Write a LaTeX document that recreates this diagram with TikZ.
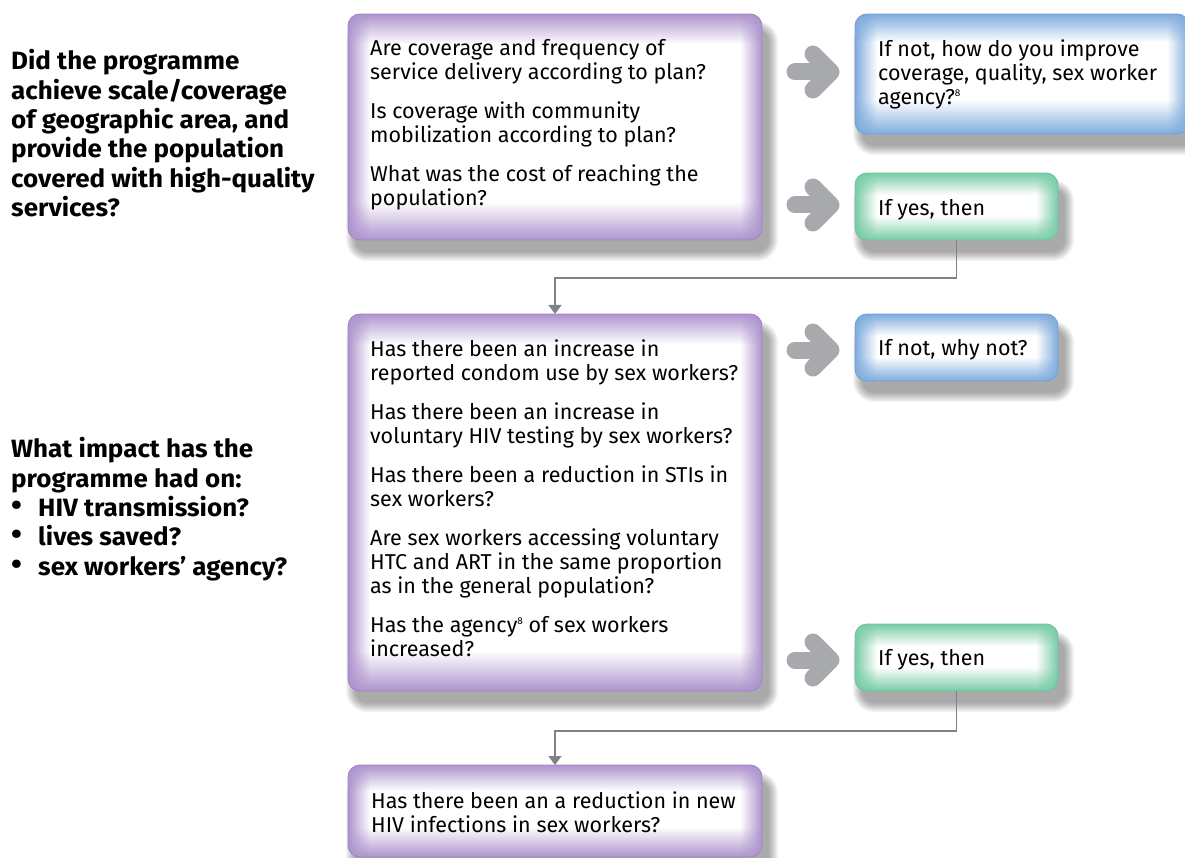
\documentclass[tikz,border=0pt]{standalone}
\usepackage{fontspec}
\setmainfont{Fira Sans}
\newfontfamily\bodyf[FakeStretch=1.0]{Fira Sans}
\newfontfamily\headf[FakeStretch=1.04]{Fira Sans}
\usetikzlibrary{calc,fadings,arrows.meta}
\definecolor{pTint}{HTML}{AE94CE}
\definecolor{pLine}{HTML}{9F86C1}
\definecolor{bTint}{HTML}{7FACDD}
\definecolor{bLine}{HTML}{74A0D2}
\definecolor{gTint}{HTML}{78CCA6}
\definecolor{gLine}{HTML}{70C29C}
\definecolor{arrGray}{HTML}{A7A9AC}
\definecolor{conGray}{HTML}{808285}
\tikzfading[name=fadeD, top color=transparent!0, middle color=transparent!35, bottom color=transparent!100]
\tikzfading[name=fadeU, top color=transparent!100, middle color=transparent!35, bottom color=transparent!0]
\tikzfading[name=fadeR, left color=transparent!0, middle color=transparent!55, right color=transparent!100]
\tikzfading[name=fadeL, left color=transparent!100, middle color=transparent!55, right color=transparent!0]
\pgfdeclarelayer{bg}
\pgfsetlayers{bg,main}
\newcommand\decor[5]{% name, tint, line, top band, bottom band
  \begin{pgfonlayer}{bg}
    \foreach \k in {0,...,9}
      \fill[black, opacity=0.038, rounded corners={(12+\k)*1pt}]
        ($(#1.north west)+(7-\k,16-\k)$) rectangle ($(#1.south east)+(7+\k,12+\k)$);
  \end{pgfonlayer}
  \begin{scope}
    \clip[rounded corners=12pt] (#1.north west) rectangle (#1.south east);
    \fill[white] (#1.north west) rectangle (#1.south east);
    \fill[#2, path fading=fadeR] (#1.north west) rectangle ($(#1.south west)+(22,0)$);
    \fill[#2, path fading=fadeL] ($(#1.north east)+(-22,0)$) rectangle (#1.south east);
    \fill[#2, path fading=fadeD] (#1.north west) rectangle ($(#1.north east)+(0,#4)$);
    \fill[#2, path fading=fadeU] ($(#1.south west)+(0,-#5)$) rectangle (#1.south east);
  \end{scope}
  \draw[#3, line width=0.9pt, rounded corners=12pt] (#1.north west) rectangle (#1.south east);
}
\tikzset{
  boxshape/.style={rectangle, inner sep=0pt, outer sep=0pt},
  body/.style={anchor=north west, inner sep=0pt, align=left, text=black,
    font={\bodyf\fontsize{21.5}{24}\selectfont}},
  head/.style={anchor=north west, inner sep=0pt, align=left, text=black,
    font={\headf\bfseries\fontsize{25}{29.3}\selectfont}},
  garrow/.style={draw=arrGray, line width=17pt, line cap=round, line join=round},
  conn/.style={draw=conGray, line width=1.3pt, -{Triangle[width=13pt,length=9pt]}}
}
\newcommand\st{\rule{0pt}{16pt}}
\newcommand\sth{\rule{0pt}{19pt}}
\newcommand\fn{\raisebox{8pt}{\fontsize{10}{10}\selectfont 8}}
\newcommand\bul{\makebox[27pt][l]{\raisebox{1pt}{\fontsize{30}{30}\selectfont\textbullet}}}
\begin{document}
\begin{tikzpicture}[x=1pt,y=-1pt]
\useasboundingbox (0,0) rectangle (1185,858);
% boxes
\node[boxshape, minimum width=414pt, minimum height=226pt] (b1) at (555,127) {};
\node[boxshape, minimum width=414pt, minimum height=377pt] (b2) at (555,502.5) {};
\node[boxshape, minimum width=414pt, minimum height=92pt] (b3) at (555,811) {};
\node[boxshape, minimum width=334pt, minimum height=120pt] (n1) at (1022,74) {};
\node[boxshape, minimum width=203pt, minimum height=67pt] (y1) at (956.5,206.5) {};
\node[boxshape, minimum width=203pt, minimum height=67pt] (n2) at (956.5,347.5) {};
\node[boxshape, minimum width=203pt, minimum height=67pt] (y2) at (956.5,657.5) {};
\decor{b1}{pTint}{pLine}{30}{38}
\decor{b2}{pTint}{pLine}{30}{40}
\decor{b3}{pTint}{pLine}{26}{30}
\decor{n1}{bTint}{bLine}{28}{34}
\decor{y1}{gTint}{gLine}{22}{24}
\decor{n2}{bTint}{bLine}{22}{24}
\decor{y2}{gTint}{gLine}{22}{24}
% texts
\node[head] (h1) at (11,49.5) {\sth Did the programme\\ achieve scale/coverage\\ of geographic area, and\\ provide the population\\ covered with high-quality\\ services?};
\node[head] (h2) at (11,437.5) {\sth What impact has the\\ programme had on:\\ \bul HIV transmission?\\ \bul lives saved?\\ \bul sex workers’ agency?};
\node[body] (t1) at (370,39.5) {\st Are coverage and frequency of\\ service delivery according to plan?\\[15pt] Is coverage with community\\ mobilization according to plan?\\[15pt] What was the cost of reaching the\\ population?};
\node[body] (t2) at (370,339.5) {\st Has there been an increase in\\ reported condom use by sex workers?\\[15pt] Has there been an increase in\\ voluntary HIV testing by sex workers?\\[15pt] Has there been a reduction in STIs in\\ sex workers?\\[15pt] Are sex workers accessing voluntary\\ HTC and ART in the same proportion\\ as in the general population?\\[15pt] Has the agency\fn\ of sex workers\\ increased?};
\node[body] (t3) at (371,791.5) {\st Has there been an a reduction in new\\ HIV infections in sex workers?};
\node[body] (tn1) at (878,39.5) {\st If not, how do you improve\\ coverage, quality, sex worker\\ agency?\fn};
\node[body] (ty1) at (878,199.5) {\st If yes, then};
\node[body] (tn2) at (878,339.5) {\st If not, why not?};
\node[body] (ty2) at (878,649.5) {\st If yes, then};
% gray arrows
\foreach \yy in {72,205,350,660}{
  \draw[garrow] (795,\yy) -- (829,\yy);
  \draw[garrow] (813,\yy-18) -- (831,\yy) -- (813,\yy+18);
}
% connectors
\draw[conn] (y1.south) -- ++(0,38) -| (b2.north);
\draw[conn] (y2.south) -- ++(0,40) -| (b3.north);
\end{tikzpicture}
\end{document}
